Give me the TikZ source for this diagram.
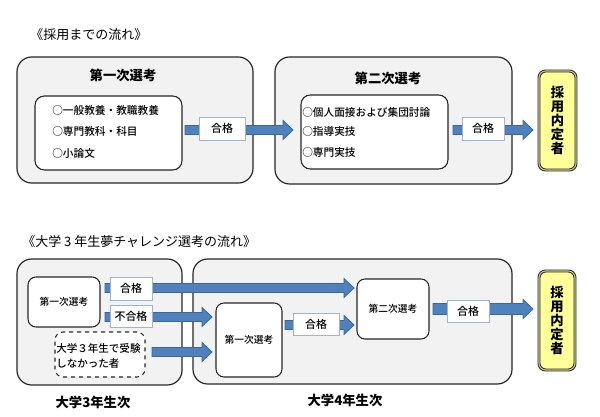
\documentclass[tikz,border=0pt]{standalone}
\usepackage{fontspec}
\setmainfont{Noto Sans CJK JP}
\newfontfamily\medfont{Noto Sans CJK JP Medium}
\usetikzlibrary{calc}
\definecolor{arrowfill}{HTML}{4F81BD}
\definecolor{arrowline}{HTML}{3A679C}
\definecolor{outerfill}{HTML}{F2F2F2}
\definecolor{boxline}{HTML}{262626}
\definecolor{labline}{HTML}{A3B3C9}
\definecolor{finalfill}{HTML}{FFFF99}
\newcommand\flowarrow[3][4.5]{%
  \filldraw[fill=arrowfill, draw=arrowline, line width=0.6pt]
    let \p1=(#2), \p2=(#3) in
    (\x1,{\y1+#1*0.75pt}) -- ({\x2-7.5pt},{\y1+#1*0.75pt}) -- ({\x2-7.5pt},{\y1+7.1pt})
    -- (\x2,\y1) -- ({\x2-7.5pt},{\y1-7.1pt}) -- ({\x2-7.5pt},{\y1-#1*0.75pt})
    -- (\x1,{\y1-#1*0.75pt}) -- cycle;}
\tikzset{
  sz/.style 2 args={minimum width={#1*0.75pt}, minimum height={#2*0.75pt}},
  outerbox/.style={draw=boxline, line width=0.9pt, fill=outerfill, rounded corners=11pt, inner sep=0pt, outer sep=0pt},
  innerbox/.style={draw=boxline, line width=0.8pt, fill=white, rounded corners=7pt, inner sep=0pt, outer sep=0pt},
  smallbox/.style={draw=boxline, line width=0.8pt, fill=white, rounded corners=6pt, inner sep=0pt, outer sep=0pt, font=\medfont\fontsize{7.3}{9}\selectfont},
  dashbox/.style={draw=boxline, line width=0.8pt, dashed, fill=white, rounded corners=6pt, inner sep=0pt, outer sep=0pt},
  labbox/.style={draw=labline, line width=0.7pt, fill=white, inner sep=0pt, outer sep=0pt, font=\medfont\fontsize{8.2}{10}\selectfont},
  finalbox/.style={draw=boxline, line width=0.7pt, double=finalfill!60!gray, double distance=0.8pt, fill=finalfill, rounded corners=5pt, inner sep=0pt, outer sep=0pt, align=center, font=\fontsize{10}{10.6}\selectfont\bfseries},
  titletext/.style={anchor=west, inner sep=0pt, font=\fontsize{9.75}{12}\selectfont},
  headtext/.style={inner sep=0pt, font=\fontsize{10}{12}\selectfont\bfseries},
  itemtext/.style={anchor=west, inner sep=0pt, font=\medfont\fontsize{8}{10}\selectfont},
  yeartext/.style={inner sep=0pt, font=\fontsize{10}{12}\selectfont\bfseries},
}
\begin{document}
\begin{tikzpicture}[x=0.75pt,y=-0.75pt]
\path[use as bounding box, fill=white] (0,0) rectangle (600,417);
% ---------- top ----------
\node[titletext] (t1) at (30,35) {《採用までの流れ》};
\node[outerbox, sz={236}{126}] (b1) at (135,120) {};
\node[outerbox, sz={237}{127}] (b2) at (393.5,120.5) {};
\node[headtext] (b1h) at (123,75) {第一次選考};
\node[headtext] (b2h) at (388,78) {第二次選考};
\coordinate (a1s) at (185,130); \coordinate (a1e) at (293,130);
\coordinate (a2s) at (453,130); \coordinate (a2e) at (533,130);
\flowarrow{a1s}{a1e}
\flowarrow{a2s}{a2e}
\node[innerbox, sz={147}{74}] (b1in) at (108.5,133) {};
\node[innerbox, sz={147}{74}] (b2in) at (374.5,132) {};
\node[itemtext] (i11) at (52,110) {○一般教養・教職教養};
\node[itemtext] (i12) at (52,131) {○専門教科・科目};
\node[itemtext] (i13) at (52,153) {○小論文};
\node[itemtext] (i21) at (302,112) {○個人面接および集団討論};
\node[itemtext] (i22) at (302,131.5) {○指導実技};
\node[itemtext] (i23) at (302,152) {○専門実技};
\node[labbox, sz={46}{23}] (l1) at (222,128.5) {合格};
\node[labbox, sz={42}{23}] (l2) at (483,128.5) {合格};
\node[finalbox, sz={37}{99}] (f1) at (557.5,120.5) {採\\用\\内\\定\\者};
% ---------- bottom ----------
\node[titletext] (t2) at (22,242) {《大学 3 年生夢チャレンジ選考の流れ》};
\node[outerbox, sz={165}{126}] (bA) at (99.5,322) {};
\node[outerbox, sz={319}{125}] (bB) at (352.5,321.5) {};
\node[yeartext] (yA) at (93,402) {大学3年生次};
\node[yeartext] (yB) at (345,400) {大学4年生次};
\coordinate (aTs) at (105,288); \coordinate (aTe) at (354,288);
\coordinate (aFs) at (105,317); \coordinate (aFe) at (212,317);
\coordinate (aDs) at (152,352); \coordinate (aDe) at (212,352);
\coordinate (aMs) at (285,325); \coordinate (aMe) at (354,325);
\coordinate (aRs) at (433,309); \coordinate (aRe) at (533,309);
\flowarrow{aTs}{aTe}
\flowarrow{aFs}{aFe}
\flowarrow{aDs}{aDe}
\flowarrow{aMs}{aMe}
\flowarrow[5.5]{aRs}{aRe}
\node[smallbox, sz={72}{50}] (s1) at (64,302) {第一次選考};
\node[dashbox, sz={90}{45}] (d1) at (100,354.5) {};
\node[itemtext, font=\medfont\fontsize{7.9}{10}\selectfont] (d1a) at (56,348) {大学３年生で受験};
\node[itemtext, font=\medfont\fontsize{7.9}{10}\selectfont] (d1b) at (56,364) {しなかった者};
\node[smallbox, sz={66}{74}] (s4) at (249,340) {第一次選考};
\node[smallbox, sz={72}{60}] (s2) at (393,309) {第二次選考};
\node[labbox, sz={42}{23}] (lT) at (131,288.5) {合格};
\node[labbox, sz={42}{22}] (lF) at (131,316) {不合格};
\node[labbox, sz={46}{22}] (lM) at (316,324) {合格};
\node[labbox, sz={42}{22}] (lR) at (468,311) {合格};
\node[finalbox, sz={36}{99}] (f2) at (557,320.5) {採\\用\\内\\定\\者};
\end{tikzpicture}
\end{document}
